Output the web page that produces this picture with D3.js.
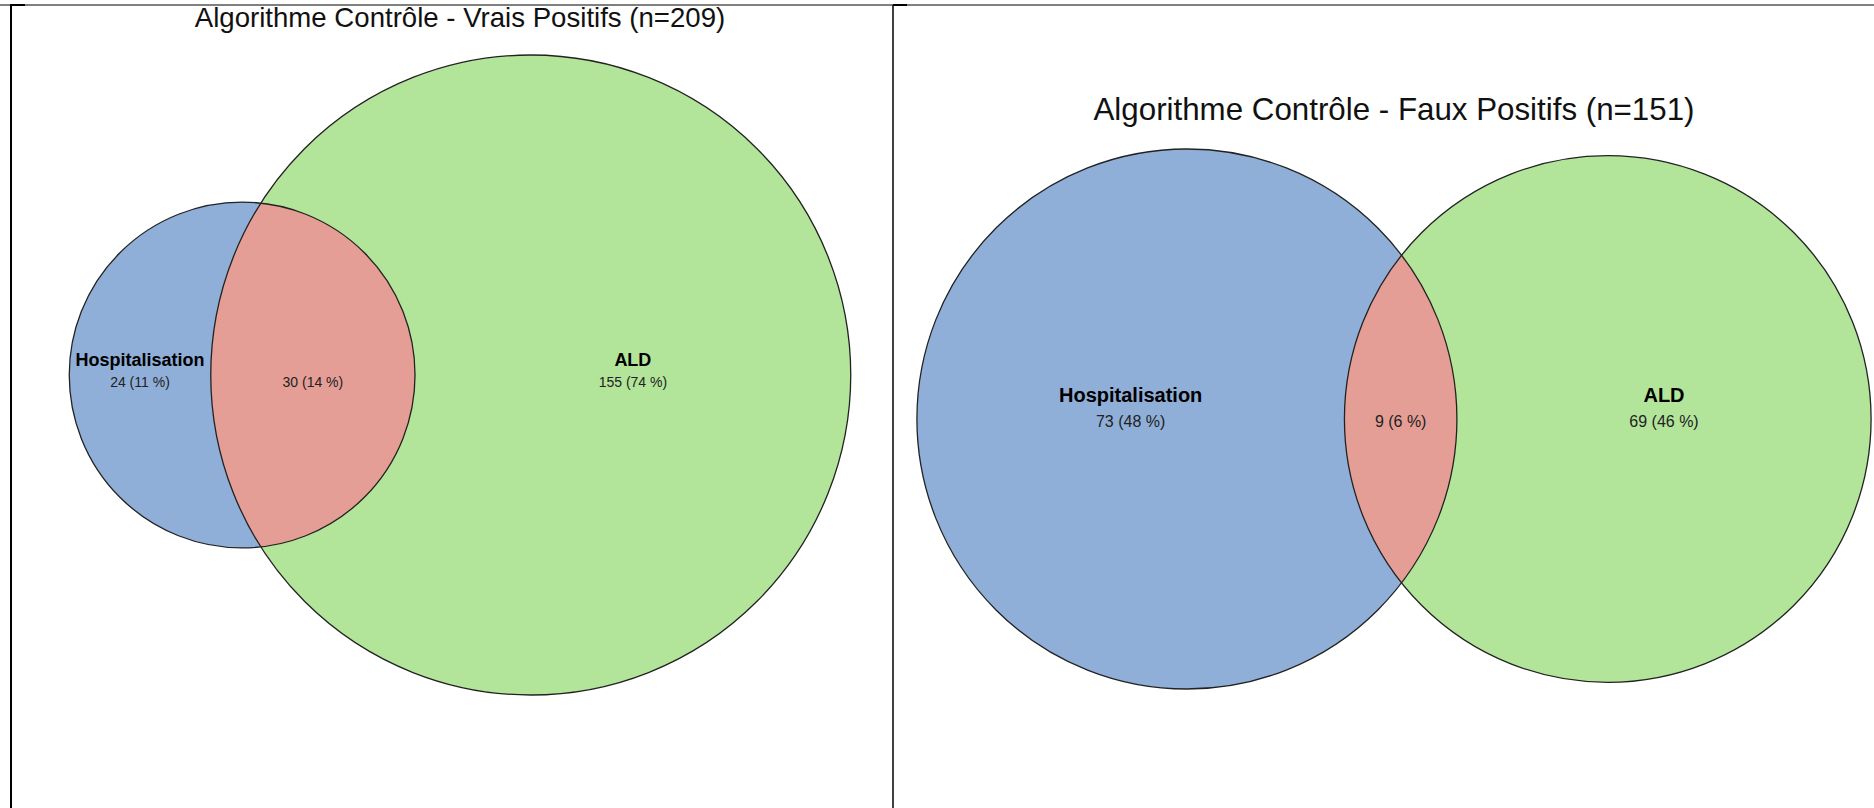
<!DOCTYPE html>
<html>
<head>
<meta charset="utf-8">
<script src="https://cdn.jsdelivr.net/npm/d3@7"></script>
<style>
  body { margin: 0; background: #fff; }
  text { font-family: "Liberation Sans", Arial, sans-serif; }
</style>
</head>
<body>
<div id="chart"></div>
<script>
// --- data ---
const titles = [
  "Algorithme Contrôle - Vrais Positifs (n=209)",
  "Algorithme Contrôle - Faux Positifs (n=151)"
];
const setNames = ["Hospitalisation", "ALD"];
const onlyHosp = [24, 73];
const inBoth = [30, 9];
const onlyALD = [155, 69];
const pctHosp = [11, 48];
const pctBoth = [14, 6];
const pctALD = [74, 46];

// --- layout per panel (positions / sizes only) ---
const panels = [
  { cx: 460, cy: 375, rMax: 320, titleY: 27, titleSize: 27.6, nameSize: 18, countSize: 14, nameDy: -15, countDy: 7 },
  { cx: 1394, cy: 419, rMax: 270, titleY: 120, titleSize: 31.3, nameSize: 20, countSize: 16, nameDy: -24, countDy: 2 }
];

const colors = { hosp: "#8fafd8", ald: "#b2e59a", both: "#e59e96" };

const width = 1874, height = 808;

const svg = d3.select("#chart").append("svg")
  .attr("width", width)
  .attr("height", height);

// frame lines
svg.append("line").attr("x1", 0).attr("x2", width).attr("y1", 5).attr("y2", 5)
  .attr("stroke", "#000").attr("stroke-width", 1);
svg.append("line").attr("x1", 11).attr("x2", 11).attr("y1", 5).attr("y2", height)
  .attr("stroke", "#000").attr("stroke-width", 2);
svg.append("line").attr("x1", 893).attr("x2", 893).attr("y1", 5).attr("y2", height)
  .attr("stroke", "#000").attr("stroke-width", 1.5);
svg.append("line").attr("x1", 10).attr("x2", 25).attr("y1", 5).attr("y2", 5)
  .attr("stroke", "#000").attr("stroke-width", 2);
svg.append("line").attr("x1", 893).attr("x2", 907).attr("y1", 5).attr("y2", 5)
  .attr("stroke", "#000").attr("stroke-width", 2);

// area of the lens between two circles at distance d
function lensArea(r1, r2, d) {
  if (d >= r1 + r2) return 0;
  if (d <= Math.abs(r1 - r2)) return Math.PI * Math.min(r1, r2) ** 2;
  const a1 = Math.acos((d * d + r1 * r1 - r2 * r2) / (2 * d * r1));
  const a2 = Math.acos((d * d + r2 * r2 - r1 * r1) / (2 * d * r2));
  const k = Math.sqrt((-d + r1 + r2) * (d + r1 - r2) * (d - r1 + r2) * (d + r1 + r2));
  return r1 * r1 * a1 + r2 * r2 * a2 - 0.5 * k;
}

function solveDistance(r1, r2, target) {
  let lo = Math.abs(r1 - r2), hi = r1 + r2;
  for (let i = 0; i < 80; i++) {
    const mid = (lo + hi) / 2;
    if (lensArea(r1, r2, mid) > target) lo = mid; else hi = mid;
  }
  return (lo + hi) / 2;
}

panels.forEach((p, i) => {
  const totA = onlyHosp[i] + inBoth[i];
  const totB = onlyALD[i] + inBoth[i];
  const r = d3.scaleSqrt().domain([0, Math.max(totA, totB)]).range([0, p.rMax]);
  const rA = r(totA), rB = r(totB);
  const overlapPx = Math.PI * r(inBoth[i]) ** 2;
  const d = solveDistance(rA, rB, overlapPx);

  const aX = p.cx - (d + rB - rA) / 2;
  const bX = aX + d;

  const g = svg.append("g");

  g.append("text")
    .attr("x", p.cx)
    .attr("y", p.titleY)
    .attr("text-anchor", "middle")
    .attr("font-size", p.titleSize)
    .attr("fill", "#111")
    .text(titles[i]);

  const clipId = "clipA" + i;
  svg.append("defs").append("clipPath").attr("id", clipId)
    .append("circle").attr("cx", aX).attr("cy", p.cy).attr("r", rA);

  g.append("circle")
    .attr("cx", aX).attr("cy", p.cy).attr("r", rA)
    .attr("fill", colors.hosp);
  g.append("circle")
    .attr("cx", bX).attr("cy", p.cy).attr("r", rB)
    .attr("fill", colors.ald);
  g.append("circle")
    .attr("cx", bX).attr("cy", p.cy).attr("r", rB)
    .attr("fill", colors.both)
    .attr("clip-path", `url(#${clipId})`);

  // outlines
  [[aX, rA], [bX, rB]].forEach(([x, rr]) => {
    g.append("circle")
      .attr("cx", x).attr("cy", p.cy).attr("r", rr)
      .attr("fill", "none")
      .attr("stroke", "#222")
      .attr("stroke-width", 1.3);
  });

  // label x = middle of each region's horizontal extent
  const xHosp = (aX - rA + bX - rB) / 2;
  const xBoth = (bX - rB + aX + rA) / 2;
  const xALD = (aX + rA + bX + rB) / 2;

  const labels = [
    { x: xHosp, name: setNames[0], count: `${onlyHosp[i]} (${pctHosp[i]} %)` },
    { x: xBoth, name: null, count: `${inBoth[i]} (${pctBoth[i]} %)` },
    { x: xALD, name: setNames[1], count: `${onlyALD[i]} (${pctALD[i]} %)` }
  ];

  labels.forEach(l => {
    if (l.name) {
      g.append("text")
        .attr("x", l.x)
        .attr("y", p.cy + p.nameDy)
        .attr("text-anchor", "middle")
        .attr("dominant-baseline", "central")
        .attr("font-size", p.nameSize)
        .attr("font-weight", "bold")
        .attr("fill", "#000")
        .text(l.name);
    }
    g.append("text")
      .attr("x", l.x)
      .attr("y", p.cy + p.countDy)
      .attr("text-anchor", "middle")
      .attr("dominant-baseline", "central")
      .attr("font-size", p.countSize)
      .attr("fill", "#222")
      .text(l.count);
  });
});
</script>
</body>
</html>
